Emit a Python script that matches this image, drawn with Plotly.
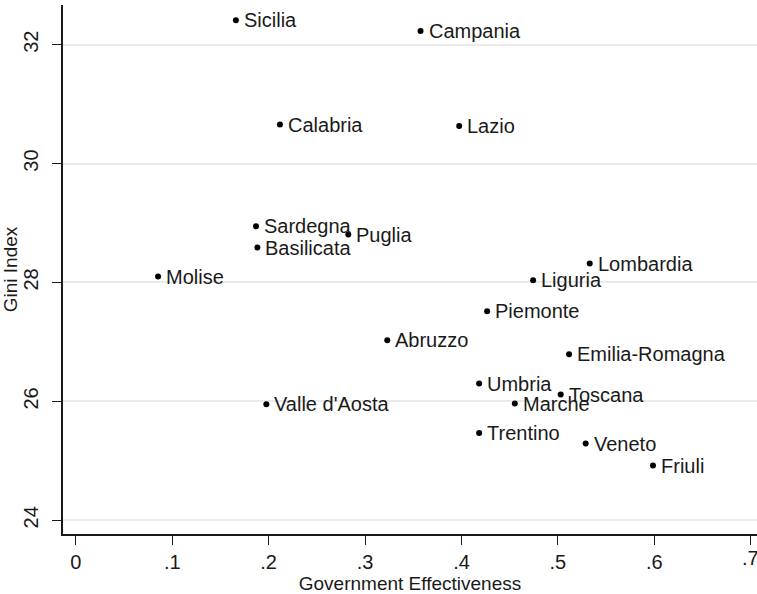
import plotly.graph_objects as go

regions = ["Sicilia", "Campania", "Calabria", "Lazio", "Sardegna", "Puglia", "Basilicata",
           "Molise", "Lombardia", "Liguria", "Piemonte", "Abruzzo", "Emilia-Romagna", "Umbria",
           "Toscana", "Marche", "Valle d'Aosta", "Trentino", "Veneto", "Friuli"]
gov_eff = [0.166, 0.3575, 0.2117, 0.3976, 0.1869, 0.2826, 0.1883,
           0.0853, 0.533, 0.4743, 0.4266, 0.323, 0.5116, 0.4183,
           0.5029, 0.4553, 0.1976, 0.4183, 0.5288, 0.5986]
gini = [32.41, 32.23, 30.656, 30.633, 28.945, 28.806, 28.587,
        28.099, 28.318, 28.037, 27.516, 27.028, 26.792, 26.299,
        26.114, 25.963, 25.951, 25.469, 25.29, 24.92]

x_ticks = [0, 0.1, 0.2, 0.3, 0.4, 0.5, 0.6, 0.7]
x_tick_labels = ["0", ".1", ".2", ".3", ".4", ".5", ".6", ".7"]
y_ticks = [24, 26, 28, 30, 32]
y_tick_labels = ["24", "26", "28", "30", "32"]

FONT = "Liberation Sans, Arial, sans-serif"
INK = "#1a1a1a"

fig = go.Figure(go.Scatter(
    x=gov_eff, y=gini, mode="markers",
    marker=dict(color="black", size=6),
    cliponaxis=False, showlegend=False, hoverinfo="skip",
))

annotations = [
    dict(x=gx, y=gy, text=name, xref="x", yref="y", showarrow=False,
         xanchor="left", yanchor="middle", xshift=6,
         font=dict(family=FONT, size=20, color=INK))
    for name, gx, gy in zip(regions, gov_eff, gini)
]
# last x tick label sits at the right edge (partly clipped, as in the original)
annotations.append(dict(
    x=x_ticks[-1], y=0, xref="x", yref="paper", text=x_tick_labels[-1], showarrow=False,
    xanchor="center", yanchor="top", yshift=-11,
    font=dict(family=FONT, size=20, color=INK),
))

fig.update_layout(
    width=757, height=594,
    margin=dict(l=63, r=0, t=5, b=60),
    paper_bgcolor="white", plot_bgcolor="white",
    font=dict(family=FONT, size=20, color=INK),
    annotations=annotations,
    xaxis=dict(
        range=[-0.0133, 0.7065], tickvals=x_ticks, ticktext=x_tick_labels,
        showgrid=False, zeroline=False, showline=True, linecolor=INK, linewidth=1.5,
        ticks="outside", ticklen=9, tickwidth=1.3, tickcolor=INK,
        tickfont=dict(size=20), automargin=False, ticklabelstandoff=0,
        title=dict(text="Government Effectiveness", font=dict(size=19), standoff=0),
    ),
    yaxis=dict(
        range=[23.769, 32.668], tickvals=y_ticks, ticktext=y_tick_labels, tickangle=-90,
        showgrid=True, gridcolor="#ebebeb", gridwidth=2, zeroline=False,
        showline=True, linecolor=INK, linewidth=1.5,
        ticks="outside", ticklen=9, tickwidth=1.3, tickcolor=INK,
        tickfont=dict(size=20), automargin=False, ticklabelstandoff=6,
        title=dict(text="Gini Index", font=dict(size=19), standoff=0),
    ),
)

fig.write_html("out.html", config={"displayModeBar": False},
               post_script="document.body.style.margin='0';")
